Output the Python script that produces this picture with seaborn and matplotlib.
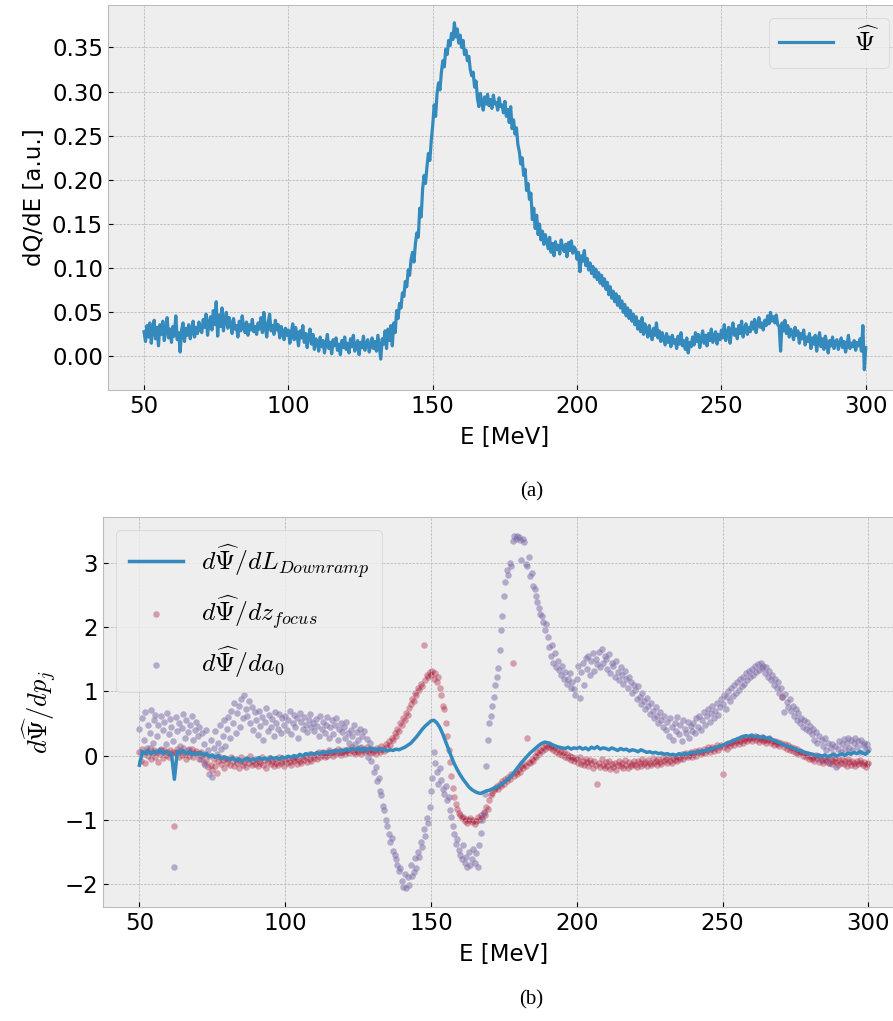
#!/usr/bin/env python3
#
# Spectrum and sensitivities vs energy
#
import numpy as np
import matplotlib
matplotlib.use('Agg')
import matplotlib.pyplot as plt
import seaborn as sns

# Spectrum dQ/dE, 0.5 MeV steps from 50 to 300 MeV
psi = [
    0.028, 0.017, 0.035, 0.022, 0.038, 0.015, 0.030, 0.041, 0.020, 0.033, 0.012, 0.036, 0.025, 0.040, 0.018, 0.029, 0.044, 0.021, 0.031, 0.016,
    0.034, 0.023, 0.046, 0.019, 0.027, 0.005, 0.030, 0.038, 0.017, 0.032, 0.024, 0.036, 0.020, 0.028, 0.040, 0.022, 0.033, 0.026, 0.039, 0.030,
    0.027, 0.042, 0.033, 0.048, 0.024, 0.038, 0.045, 0.030, 0.052, 0.036, 0.062, 0.023, 0.047, 0.034, 0.055, 0.029, 0.041, 0.050, 0.032, 0.044,
    0.037, 0.026, 0.043, 0.031, 0.035, 0.022, 0.040, 0.029, 0.046, 0.033, 0.027, 0.039, 0.024, 0.036, 0.030, 0.042, 0.028, 0.034, 0.025, 0.038,
    0.031, 0.044, 0.027, 0.050, 0.033, 0.022, 0.039, 0.048, 0.029, 0.035, 0.025, 0.041, 0.030, 0.036, 0.021, 0.034, 0.028, 0.019, 0.032, 0.024,
    0.030, 0.015, 0.027, 0.037, 0.019, 0.033, 0.024, 0.012, 0.029, 0.021, 0.035, 0.016, 0.026, 0.010, 0.023, 0.031, 0.014, 0.025, 0.008, 0.020,
    0.017, 0.006, 0.022, 0.011, 0.018, 0.004, 0.015, 0.025, 0.009, 0.016, 0.003, 0.019, 0.012, 0.021, 0.007, 0.014, 0.002, 0.018, 0.010, 0.022,
    0.008, 0.015, 0.004, 0.020, 0.011, 0.024, 0.006, 0.013, 0.018, 0.002, 0.016, 0.010, 0.023, 0.007, 0.014, 0.019, 0.005, 0.012, 0.021, 0.009,
    0.017, 0.006, 0.024, 0.011, -0.003, 0.020, 0.014, 0.029, 0.009, 0.031, 0.018, 0.035, 0.012, 0.038, 0.027, 0.052, 0.043, 0.060, 0.055, 0.072,
    0.068, 0.085, 0.079, 0.098, 0.092, 0.110, 0.118, 0.107, 0.128, 0.140, 0.135, 0.168, 0.158, 0.190, 0.205, 0.196, 0.215, 0.230, 0.222, 0.245,
    0.262, 0.285, 0.272, 0.298, 0.310, 0.302, 0.322, 0.335, 0.328, 0.348, 0.342, 0.358, 0.352, 0.366, 0.359, 0.378, 0.362, 0.371, 0.355, 0.364,
    0.350, 0.358, 0.342, 0.347, 0.335, 0.340, 0.325, 0.318, 0.322, 0.305, 0.312, 0.292, 0.283, 0.298, 0.288, 0.279, 0.294, 0.286, 0.297, 0.284,
    0.291, 0.281, 0.296, 0.286, 0.288, 0.279, 0.293, 0.283, 0.285, 0.276, 0.289, 0.272, 0.280, 0.265, 0.283, 0.258, 0.268, 0.252, 0.259, 0.240,
    0.232, 0.218, 0.225, 0.205, 0.212, 0.188, 0.196, 0.178, 0.185, 0.155, 0.168, 0.145, 0.160, 0.138, 0.150, 0.132, 0.142, 0.127, 0.138, 0.130,
    0.122, 0.135, 0.118, 0.128, 0.114, 0.130, 0.121, 0.126, 0.116, 0.132, 0.123, 0.119, 0.127, 0.113, 0.129, 0.120, 0.131, 0.117, 0.124, 0.121,
    0.110, 0.118, 0.096, 0.114, 0.108, 0.120, 0.103, 0.111, 0.098, 0.106, 0.094, 0.102, 0.090, 0.099, 0.087, 0.095, 0.083, 0.092, 0.080, 0.088,
    0.076, 0.084, 0.070, 0.079, 0.066, 0.074, 0.062, 0.071, 0.058, 0.068, 0.055, 0.063, 0.050, 0.059, 0.046, 0.055, 0.043, 0.052, 0.040, 0.048,
    0.036, 0.045, 0.031, 0.040, 0.028, 0.044, 0.025, 0.037, 0.030, 0.022, 0.035, 0.026, 0.019, 0.032, 0.024, 0.038, 0.021, 0.029, 0.017, 0.027,
    0.020, 0.013, 0.026, 0.016, 0.022, 0.011, 0.024, 0.015, 0.019, 0.009, 0.023, 0.014, 0.027, 0.012, 0.018, 0.008, 0.021, 0.004, 0.016, 0.011,
    0.022, 0.013, 0.027, 0.017, 0.025, 0.010, 0.020, 0.029, 0.015, 0.024, 0.012, 0.026, 0.018, 0.031, 0.016, 0.023, 0.028, 0.014, 0.025, 0.019,
    0.030, 0.021, 0.036, 0.018, 0.027, 0.033, 0.015, 0.029, 0.038, 0.024, 0.031, 0.020, 0.035, 0.026, 0.040, 0.022, 0.030, 0.037, 0.025, 0.033,
    0.028, 0.039, 0.031, 0.042, 0.027, 0.036, 0.044, 0.033, 0.038, 0.030, 0.041, 0.035, 0.046, 0.037, 0.050, 0.040, 0.045, 0.038, 0.047, 0.036,
    0.034, 0.006, 0.038, 0.029, 0.041, 0.026, 0.035, 0.022, 0.031, 0.027, 0.019, 0.033, 0.024, 0.029, 0.015, 0.026, 0.020, 0.030, 0.013, 0.022,
    0.017, 0.026, 0.009, 0.021, 0.014, 0.024, 0.006, 0.019, 0.027, 0.011, 0.020, 0.008, 0.023, 0.015, 0.004, 0.018, 0.012, 0.022, 0.009, 0.016,
    0.019, 0.008, 0.014, 0.021, 0.010, 0.017, 0.005, 0.013, 0.024, 0.009, 0.015, 0.011, 0.018, 0.007, 0.016, 0.012, 0.020, 0.006, 0.035, -0.015,
    0.010,
]

# d Psi / d L_downramp, 1 MeV steps
d_downramp = [
    -0.15, 0.06, 0.03, 0.08, 0.02, 0.07, 0.04, 0.09, 0.03, 0.06,
    0.05, 0.02, -0.37, 0.07, 0.04, 0.08, 0.03, 0.06, 0.01, 0.04,
    0.02, 0.05, 0.00, 0.03, -0.02, 0.01, -0.03, 0.00, -0.05, -0.02,
    -0.04, -0.07, -0.03, -0.08, -0.05, -0.09, -0.06, -0.04, -0.08, -0.05,
    -0.07, -0.03, -0.06, -0.04, -0.07, -0.02, -0.05, -0.03, -0.06, -0.02,
    -0.04, -0.01, -0.03, 0.00, -0.02, 0.02, -0.01, 0.03, 0.01, 0.04,
    0.02, 0.05, 0.03, 0.06, 0.04, 0.07, 0.05, 0.08, 0.06, 0.09,
    0.07, 0.10, 0.08, 0.11, 0.09, 0.12, 0.08, 0.11, 0.09, 0.12,
    0.10, 0.08, 0.11, 0.09, 0.10, 0.07, 0.09, 0.08, 0.10, 0.09,
    0.11, 0.13, 0.16, 0.19, 0.24, 0.29, 0.35, 0.41, 0.46, 0.50,
    0.54, 0.55, 0.51, 0.44, 0.34, 0.22, 0.10, -0.02, -0.13, -0.22,
    -0.30, -0.37, -0.43, -0.49, -0.53, -0.56, -0.58, -0.59, -0.57, -0.55,
    -0.54, -0.52, -0.50, -0.48, -0.45, -0.42, -0.38, -0.34, -0.29, -0.23,
    -0.17, -0.11, -0.06, -0.01, 0.04, 0.08, 0.12, 0.16, 0.19, 0.21,
    0.20, 0.18, 0.16, 0.14, 0.13, 0.12, 0.11, 0.13, 0.10, 0.12,
    0.11, 0.13, 0.10, 0.12, 0.09, 0.13, 0.11, 0.14, 0.10, 0.12,
    0.11, 0.09, 0.12, 0.10, 0.08, 0.11, 0.09, 0.10, 0.07, 0.09,
    0.08, 0.06, 0.09, 0.07, 0.05, 0.06, 0.04, 0.05, 0.03, 0.04,
    0.02, 0.03, 0.01, 0.02, 0.00, 0.03, 0.01, 0.04, 0.02, 0.05,
    0.04, 0.06, 0.05, 0.08, 0.07, 0.10, 0.09, 0.12, 0.13, 0.15,
    0.16, 0.18, 0.20, 0.22, 0.24, 0.26, 0.28, 0.30, 0.31, 0.30,
    0.32, 0.29, 0.31, 0.28, 0.30, 0.27, 0.28, 0.25, 0.23, 0.21,
    0.19, 0.17, 0.15, 0.14, 0.12, 0.10, 0.08, 0.07, 0.05, 0.04,
    0.03, 0.02, 0.00, 0.01, -0.01, 0.01, -0.02, 0.00, 0.02, -0.01,
    0.01, 0.03, 0.00, 0.04, 0.02, 0.05, 0.03, 0.06, 0.04, 0.02,
    0.06,
]

# d Psi / d z_focus, 0.5 MeV steps
d_zfocus = [
    0.05, -0.08, 0.10, 0.02, -0.12, 0.07, 0.00, 0.12, -0.05, 0.04, 0.09, -0.02, 0.06, -0.10, 0.03, 0.11, -0.04, 0.08, 0.01, 0.05,
    -0.03, 0.09, 0.02, 0.06, -1.10, 0.04, 0.10, -0.02, 0.07, 0.01, 0.12, 0.03, -0.05, 0.08, 0.00, 0.06, 0.11, -0.03, 0.04, 0.07,
    0.02, -0.06, 0.05, -0.01, -0.12, 0.03, -0.08, -0.18, 0.00, -0.14, -0.22, -0.05, -0.16, -0.27, -0.09, -0.02, -0.13, -0.07, -0.19, -0.04,
    -0.11, -0.06, -0.15, -0.02, -0.09, -0.17, -0.05, -0.12, -0.20, -0.08, -0.03, -0.14, -0.10, -0.18, -0.06, -0.11, -0.01, -0.15, -0.08, -0.13,
    -0.05, -0.16, -0.09, -0.12, -0.02, -0.14, -0.07, -0.19, -0.10, -0.04, -0.13, -0.08, -0.17, -0.06, -0.11, -0.15, -0.03, -0.12, -0.09, -0.16,
    -0.07, -0.12, -0.04, -0.10, -0.15, -0.06, -0.09, -0.02, -0.13, -0.05, -0.08, -0.11, 0.00, -0.07, -0.03, -0.10, 0.02, -0.05, -0.08, 0.01,
    -0.04, 0.03, -0.06, 0.05, -0.02, 0.01, 0.06, -0.03, 0.04, 0.00, 0.08, 0.02, 0.05, -0.01, 0.07, 0.03, 0.10, 0.04, 0.01, 0.06,
    0.09, 0.03, 0.07, 0.11, 0.04, 0.08, 0.13, 0.05, 0.02, 0.09, 0.06, 0.12, 0.03, 0.08, 0.10, 0.05, 0.14, 0.07, 0.04, 0.11,
    0.06, 0.09, 0.03, 0.12, 0.08, 0.05, 0.15, 0.10, 0.07, 0.18, 0.13, 0.22, 0.17, 0.28, 0.24, 0.35, 0.31, 0.42, 0.38, 0.50,
    0.47, 0.58, 0.55, 0.66, 0.63, 0.74, 0.80, 0.88, 0.85, 0.97, 0.94, 1.05, 1.02, 1.12, 1.08, 1.72, 1.18, 1.26, 1.22, 1.30,
    1.25, 1.32, 1.20, 1.28, 1.15, 1.22, 1.05, 0.95, 0.78, 0.72, 0.50, 0.30, 0.08, -0.10, -0.32, -0.50, -0.64, -0.75, -0.84, -0.90,
    -0.93, -0.98, -0.95, -1.02, -0.99, -1.05, -1.01, -0.97, -1.04, -1.00, -1.06, -1.02, -0.96, -1.00, -0.93, -0.97, -0.88, -0.92, -0.80, -0.84,
    -0.70, -0.62, -0.58, -0.54, -0.50, -0.47, -0.52, -0.44, -0.48, -0.40, -0.44, -0.36, -0.40, -0.33, -0.37, -0.29, 1.45, -0.32, -0.25, -0.28,
    -0.21, -0.25, -0.17, -0.20, -0.13, -0.16, 0.28, -0.10, -0.12, -0.05, -0.08, 0.00, -0.03, 0.05, 0.02, 0.09, 0.07, 0.13, 0.11, 0.16,
    0.14, 0.18, 0.12, 0.15, 0.09, 0.13, 0.06, 0.10, 0.03, 0.07, 0.01, 0.05, -0.02, 0.03, -0.04, 0.00, -0.07, -0.02, -0.09, -0.04,
    -0.06, -0.11, -0.03, -0.13, -0.08, -0.15, -0.05, -0.10, -0.17, -0.07, -0.12, -0.19, -0.09, -0.14, -0.45, -0.11, -0.18, -0.06, -0.15, -0.20,
    -0.10, -0.16, -0.08, -0.21, -0.13, -0.18, -0.11, -0.22, -0.14, -0.09, -0.17, -0.12, -0.20, -0.07, -0.15, -0.19, -0.10, -0.16, -0.13, -0.08,
    -0.14, -0.18, -0.09, -0.12, -0.16, -0.06, -0.13, -0.10, -0.17, -0.07, -0.11, -0.15, -0.04, -0.12, -0.08, -0.14, -0.05, -0.10, -0.13, -0.03,
    -0.09, -0.06, -0.12, -0.02, -0.08, -0.11, -0.04, -0.07, 0.00, -0.09, -0.03, -0.06, 0.02, -0.05, -0.01, 0.04, -0.03, 0.01, 0.06, -0.02,
    0.03, 0.07, 0.00, 0.05, 0.09, 0.02, 0.06, 0.11, 0.04, 0.08, 0.13, 0.05, 0.10, 0.14, 0.07, 0.12, 0.16, 0.09, 0.13, 0.17,
    -0.28, 0.14, 0.18, 0.11, 0.20, 0.15, 0.19, 0.22, 0.16, 0.21, 0.25, 0.18, 0.23, 0.27, 0.20, 0.24, 0.28, 0.22, 0.26, 0.29,
    0.23, 0.27, 0.30, 0.24, 0.28, 0.21, 0.26, 0.29, 0.22, 0.25, 0.19, 0.24, 0.27, 0.20, 0.23, 0.17, 0.22, 0.18, 0.21, 0.15,
    0.19, 0.92, 0.14, 0.18, 0.11, 0.16, 0.09, 0.13, 0.07, 0.12, 0.04, 0.10, 0.02, 0.07, 0.05, -0.01, 0.04, -0.03, 0.02, -0.05,
    0.00, -0.06, -0.02, -0.09, 0.01, -0.04, -0.10, -0.03, -0.07, -0.12, -0.05, -0.09, -0.02, -0.11, -0.06, -0.13, -0.08, -0.04, -0.10, -0.15,
    -0.07, -0.11, -0.05, -0.13, -0.09, -0.16, -0.06, -0.10, -0.14, -0.08, -0.12, -0.17, -0.09, -0.13, -0.07, -0.11, -0.15, -0.10, -0.18, -0.13,
    -0.12,
]

# d Psi / d a0, 0.5 MeV steps
d_a0 = [
    0.42, 0.05, 0.58, 0.25, 0.68, 0.12, 0.47, 0.35, 0.71, 0.20, 0.55, 0.64, 0.30, 0.48, 0.08, 0.62, 0.40, 0.52, 0.18, 0.66,
    0.33, 0.57, 0.45, 0.22, -1.73, 0.60, 0.38, 0.50, 0.15, 0.43, 0.65, 0.28, 0.55, 0.36, 0.10, 0.48, 0.62, 0.25, 0.40, 0.53,
    0.30, 0.45, -0.05, 0.35, 0.18, -0.15, 0.40, 0.08, -0.28, 0.25, -0.33, 0.12, 0.38, 0.02, 0.20, 0.47, 0.10, 0.30, 0.55, 0.15,
    0.42, 0.60, 0.28, 0.70, 0.50, 0.82, 0.35, 0.66, 0.78, 0.45, 0.88, 0.58, 0.95, 0.72, 0.62, 0.85, 0.50, 0.76, 0.40, 0.68,
    0.55, 0.32, 0.70, 0.46, 0.60, 0.25, 0.52, 0.74, 0.38, 0.63, 0.44, 0.57, 0.30, 0.68, 0.50, 0.41, 0.65, 0.35, 0.58, 0.47,
    0.62, 0.40, 0.55, 0.70, 0.33, 0.50, 0.64, 0.45, 0.58, 0.28, 0.67, 0.52, 0.42, 0.60, 0.48, 0.36, 0.56, 0.65, 0.44, 0.51,
    0.38, 0.57, 0.46, 0.30, 0.62, 0.41, 0.52, 0.35, 0.48, 0.60, 0.27, 0.44, 0.55, 0.33, 0.47, 0.58, 0.25, 0.42, 0.50, 0.36,
    0.45, 0.28, 0.52, 0.35, 0.20, 0.40, 0.31, 0.47, 0.18, 0.36, 0.25, 0.42, 0.14, 0.30, 0.38, 0.08, 0.26, -0.02, 0.20, -0.08,
    0.10, -0.25, -0.18, -0.40, -0.35, -0.55, -0.62, -0.78, -0.85, -1.00, -1.10, -1.22, -1.35, -1.28, -1.48, -1.55, -1.62, -1.70, -1.80, -1.75,
    -1.95, -2.05, -1.85, -2.07, -1.90, -2.02, -1.70, -1.88, -1.82, -1.60, -1.75, -1.50, -1.58, -1.35, -1.42, -1.15, -1.25, -0.98, -1.05, -0.80,
    -0.55, -0.35, 0.05, -0.12, -0.25, -0.45, -0.20, -0.38, -0.52, -0.60, -0.48, -0.70, -0.65, -0.85, -0.95, -1.10, -1.22, -1.38, -1.30, -1.47,
    -1.55, -1.62, -1.40, -1.68, -1.58, -1.73, -1.50, -1.70, -1.62, -1.45, -1.68, -1.52, -1.73, -1.40, -1.20, -1.00, -0.90, -0.60, -0.17, 0.25,
    0.50, 0.62, 0.78, 0.92, 1.10, 1.23, 1.36, 1.65, 1.95, 2.17, 2.48, 2.70, 2.90, 2.82, 3.00, 2.95, 3.35, 3.42, 3.38, 3.43,
    3.40, 3.36, 3.05, 3.38, 3.33, 2.98, 2.95, 3.10, 2.80, 2.85, 2.65, 2.60, 2.48, 2.40, 2.30, 2.20, 2.17, 2.08, 1.95, 2.05,
    1.85, 1.70, 1.55, 1.72, 1.45, 1.60, 1.38, 1.48, 1.34, 1.25, 1.40, 1.20, 1.30, 1.12, 1.19, 1.28, 1.05, 1.15, 1.03, 0.95,
    1.20, 1.39, 0.90, 1.30, 1.45, 1.10, 1.52, 1.35, 1.55, 1.25, 1.48, 1.60, 1.32, 1.50, 1.42, 1.62, 1.38, 1.66, 1.45, 1.55,
    1.50, 1.35, 1.58, 1.28, 1.45, 1.40, 1.22, 1.48, 1.30, 1.18, 1.38, 1.25, 1.12, 1.32, 1.20, 1.05, 1.23, 1.15, 0.98, 1.10,
    1.02, 0.88, 1.08, 0.92, 0.80, 0.98, 0.85, 0.72, 0.90, 0.78, 0.65, 0.82, 0.70, 0.58, 0.75, 0.61, 0.50, 0.68, 0.55, 0.45,
    0.62, 0.40, 0.52, 0.30, 0.58, 0.45, 0.25, 0.50, 0.38, 0.60, 0.33, 0.48, 0.22, 0.55, 0.41, 0.35, 0.52, 0.28, 0.46, 0.38,
    0.50, 0.35, 0.58, 0.44, 0.62, 0.40, 0.55, 0.68, 0.48, 0.61, 0.72, 0.52, 0.66, 0.78, 0.58, 0.70, 0.82, 0.63, 0.76, 0.88,
    0.80, 0.95, 0.72, 0.92, 1.00, 0.85, 1.05, 0.93, 1.10, 0.98, 1.15, 1.02, 1.20, 1.08, 1.23, 1.12, 1.28, 1.18, 1.32, 1.22,
    1.35, 1.25, 1.39, 1.30, 1.42, 1.33, 1.45, 1.36, 1.40, 1.28, 1.38, 1.22, 1.32, 1.18, 1.25, 1.10, 1.20, 1.05, 1.14, 0.98,
    1.06, 0.92, 0.68, 0.96, 0.83, 0.75, 0.88, 0.70, 0.78, 0.62, 0.72, 0.55, 0.66, 0.50, 0.58, 0.45, 0.56, 0.42, 0.52, 0.38,
    0.46, 0.33, 0.41, 0.25, 0.36, 0.20, 0.30, -0.05, 0.24, 0.15, 0.28, 0.08, 0.20, -0.12, 0.12, 0.18, 0.02, 0.15, -0.18, 0.10,
    0.22, 0.05, 0.18, 0.26, 0.10, 0.20, 0.28, 0.12, 0.24, 0.08, 0.19, 0.27, 0.14, 0.22, 0.06, 0.25, 0.16, 0.20, 0.11, 0.18,
    0.10,
]

# Energy axes (MeV)
E_psi = np.linspace(50, 300, len(psi))
E_line = np.linspace(50, 300, len(d_downramp))
E_z = np.linspace(50, 300, len(d_zfocus))
E_a = np.linspace(50, 300, len(d_a0))

labels = [
    r'$d\widehat{\Psi}/dL_{Downramp}$',
    r'$d\widehat{\Psi}/dz_{focus}$',
    r'$d\widehat{\Psi}/da_0$',
]

plt.style.use('bmh')
plt.rcParams['font.family'] = ['DejaVu Sans']
plt.rcParams['mathtext.fontset'] = 'cm'
fs = 16.5      # tick / axis label size
lfs = 18.5     # legend (mathtext) size

colors = ['#348ABD', '#A60628', '#7A68A6']

fig = plt.figure(figsize=(8.93, 10.21), dpi=100)

#
# (a) Spectrum
#
ax0 = fig.add_axes([0.1209, 0.618, 0.889, 0.377])
sns.lineplot(x=E_psi, y=psi, ax=ax0, color=colors[0], lw=2.3,
             label=r'$\widehat{\Psi}$', sort=False, estimator=None)
ax0.set_xlim(37.5, 312.5)
ax0.set_ylim(-0.038, 0.398)
ax0.set_yticks(np.arange(0, 0.36, 0.05))
ax0.set_yticklabels(['%.2f' % v for v in np.arange(0, 0.36, 0.05)])
ax0.set_xlabel('E [MeV]', fontsize=fs, labelpad=6)
ax0.set_ylabel('dQ/dE [a.u.]', fontsize=fs)
ax0.tick_params(labelsize=fs)
ax0.legend(loc='upper right', fontsize=lfs, handlelength=2.1,
           borderpad=0.4, handletextpad=0.8)

#
# (b) Sensitivities
#
ax1 = fig.add_axes([0.1153, 0.1117, 0.898, 0.382])
sns.lineplot(x=E_line, y=d_downramp, ax=ax1, color=colors[0], lw=2.5,
             label=labels[0], sort=False, estimator=None)
sns.scatterplot(x=E_z, y=d_zfocus, ax=ax1, color=colors[1], s=22,
                alpha=0.35, linewidth=0, label=labels[1])
sns.scatterplot(x=E_a, y=d_a0, ax=ax1, color=colors[2], s=22,
                alpha=0.5, linewidth=0, label=labels[2])
ax1.set_xlim(37.5, 312.5)
ax1.set_ylim(-2.36, 3.72)
ax1.set_yticks([-2, -1, 0, 1, 2, 3])
ax1.set_xlabel('E [MeV]', fontsize=fs, labelpad=6)
ax1.set_ylabel(r'$d\widehat{\Psi}/dp_j$', fontsize=19)
ax1.tick_params(labelsize=fs)
ax1.legend(loc='upper left', fontsize=lfs, handlelength=2.1,
           labelspacing=0.5, borderpad=0.5, handletextpad=0.7)

# Captions
fig.text(0.595, 0.518, '(a)', ha='center', va='center',
         family='Liberation Serif', fontsize=15)
fig.text(0.595, 0.021, '(b)', ha='center', va='center',
         family='Liberation Serif', fontsize=15)

plt.savefig('out.png', dpi=100)
